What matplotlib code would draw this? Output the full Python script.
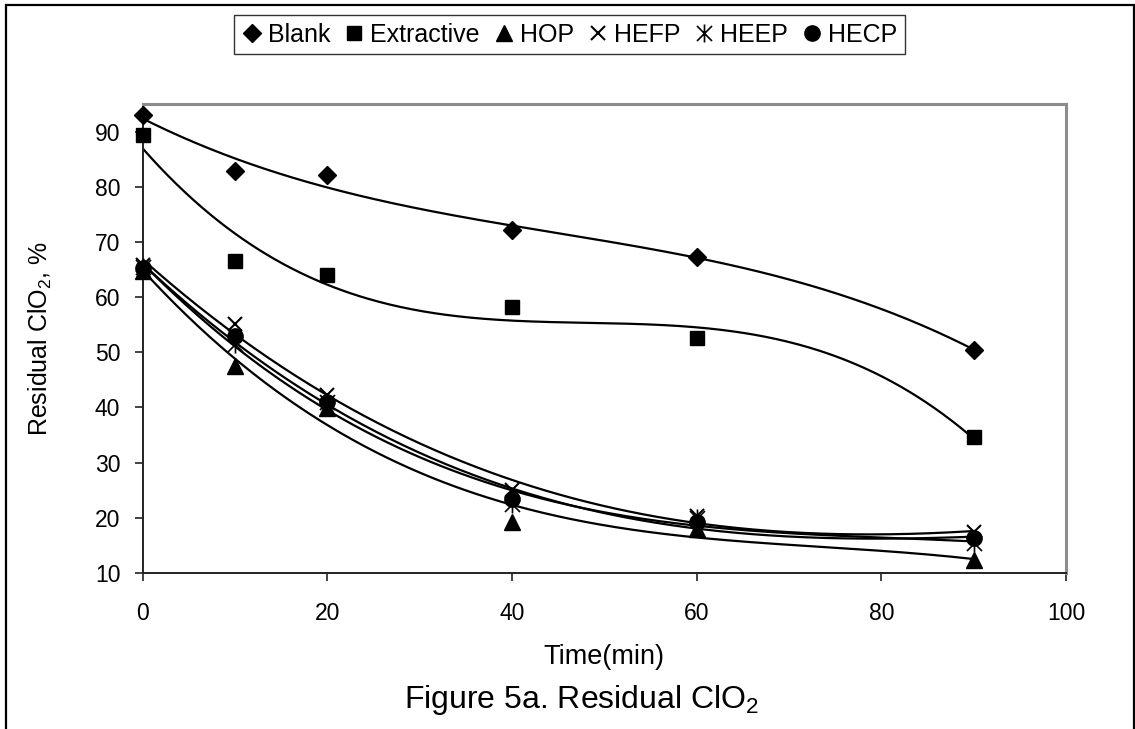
import matplotlib
matplotlib.use("Agg")
import matplotlib.pyplot as plt
from matplotlib.path import Path
from matplotlib.patches import Rectangle
import numpy as np

plt.rcParams['font.family'] = ['Liberation Sans', 'DejaVu Sans']

# residual ClO2 (%) vs time (min)
time_min = [0, 10, 20, 40, 60, 90]
blank = [93.1, 82.8, 82.1, 72.2, 67.3, 50.5]
extractive = [89.3, 66.5, 64.1, 58.2, 52.6, 34.7]
hop = [64.8, 47.6, 39.9, 19.3, 18.0, 12.3]
hefp = [65.8, 55.2, 42.2, 25.0, 20.3, 17.4]
heep = [65.5, 51.5, 41.0, 22.5, 20.0, 15.5]
hecp = [65.3, 53.0, 41.0, 23.5, 19.2, 16.4]

series_names = ['Blank', 'Extractive', 'HOP', 'HEFP', 'HEEP', 'HECP']
x_ticks = [0, 20, 40, 60, 80, 100]
y_ticks = [10, 20, 30, 40, 50, 60, 70, 80, 90]

# Excel-like asterisk: an x with a vertical bar through it
star = Path([(-0.5, -0.5), (0.5, 0.5), (-0.5, 0.5), (0.5, -0.5), (0, -0.6), (0, 0.6)],
            [Path.MOVETO, Path.LINETO, Path.MOVETO, Path.LINETO, Path.MOVETO, Path.LINETO])

styles = {
    'Blank': dict(marker='D', ms=9),
    'Extractive': dict(marker='s', ms=10.5),
    'HOP': dict(marker='^', ms=11),
    'HEFP': dict(marker='x', ms=10, mew=1.5),
    'HEEP': dict(marker=star, ms=13, mew=1.2),
    'HECP': dict(marker='o', ms=11),
}

fig = plt.figure(figsize=(11.35, 7.29), dpi=100)
ax = fig.add_axes([0.1256, 0.214, 0.8136, 0.6433])

t = np.array(time_min)
tt = np.linspace(0, 90, 300)
for name, vals in zip(series_names, [blank, extractive, hop, hefp, heep, hecp]):
    # 3rd order polynomial trendline
    coef = np.polyfit(t, vals, 3)
    ax.plot(tt, np.polyval(coef, tt), color='black', lw=1.6, zorder=2)
    ax.plot(t, vals, linestyle='none', color='black', label=name, zorder=3,
            clip_on=False, **styles[name])

ax.set_xlim(0, 100)
ax.set_ylim(10, 95)
ax.set_xticks(x_ticks)
ax.set_yticks(y_ticks)
ax.tick_params(axis='both', labelsize=16.5, direction='out', length=6, width=1.2, color='#222222')
ax.tick_params(axis='y', pad=10)
ax.tick_params(axis='x', pad=15)

for side in ['top', 'right']:
    ax.spines[side].set_color('#8c8c8c')
    ax.spines[side].set_linewidth(2.2)
for side in ['left', 'bottom']:
    ax.spines[side].set_color('#222222')
    ax.spines[side].set_linewidth(1.4)

ax.set_xlabel('Time(min)', fontsize=19.5)
ax.xaxis.set_label_coords(0.5, -0.179)
ax.xaxis.label.set_va('center')
ax.set_ylabel(r'Residual ClO$_\mathregular{2}$, %', fontsize=18)
ax.yaxis.set_label_coords(-0.111, 0.5)
ax.yaxis.label.set_va('center')

leg = ax.legend(loc='center', bbox_to_anchor=(0.5018, 0.952), bbox_transform=fig.transFigure,
                ncol=6, fontsize=18, frameon=True, fancybox=False, edgecolor='black',
                handlelength=0.8, handletextpad=0.25, columnspacing=0.55, borderpad=0.3,
                borderaxespad=0)
leg.get_frame().set_linewidth(1.0)

fig.text(0.512, 0.04, r'Figure 5a. Residual ClO$_\mathregular{2}$', fontsize=23,
         ha='center', va='center')

# outer frame around the whole figure (open at the bottom edge)
fig.patches.append(Rectangle((0.0053, -0.02), 0.9934, 1.0131, transform=fig.transFigure,
                             fill=False, edgecolor='black', lw=1.6, clip_on=False))

fig.savefig('out.png', dpi=100)
